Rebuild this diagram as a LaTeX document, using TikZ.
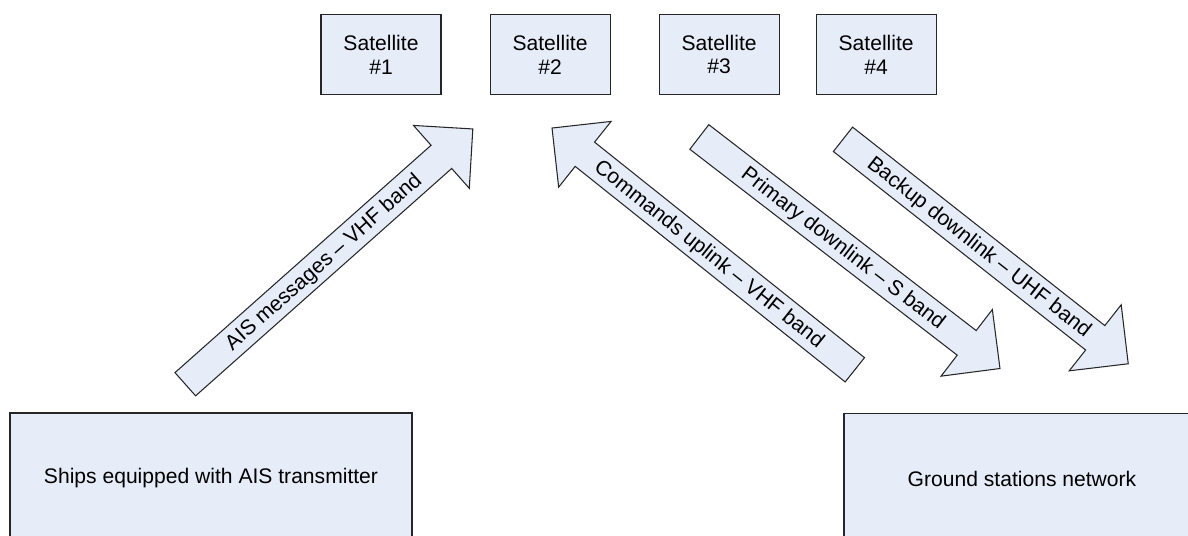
\documentclass[tikz,border=0pt]{standalone}
\usepackage{fontspec}
\setmainfont{Liberation Sans}
\usetikzlibrary{shapes.arrows, positioning}
\definecolor{boxfill}{RGB}{231,237,248}

\begin{document}
\begin{tikzpicture}[
    block/.style={rectangle, draw=black!85, fill=boxfill, line width=0.6pt,
        font=\fontsize{12}{13.5}\selectfont, align=center},
    sat/.style={block, minimum width=2.4cm, minimum height=1.6cm},
    site/.style={block, minimum height=2.6cm},
    link/.style={single arrow, draw=black!85, fill=boxfill, line width=0.6pt,
        font=\fontsize{12}{13.5}\selectfont, inner xsep=0pt, inner ysep=0pt,
        text height=0.434cm, text depth=0.166cm,
        single arrow head extend=0.53cm, single arrow tip angle=90}
]

    \useasboundingbox (0,0) rectangle (23.76,10.7);

    % Satellites -------------------------------------------------

    \node[sat] (s1) at (7.62,9.61) {Satellite\\\#1};
    \node[sat, right=0.96cm of s1] (s2) {Satellite\\\#2};
    \node[sat, right=0.96cm of s2] (s3) {Satellite\\\#3};
    \node[sat, right=0.72cm of s3] (s4) {Satellite\\\#4};

    % Ground segment ---------------------------------------------

    \node[site, minimum width=8.04cm] (ships) at (4.22,1.14) {Ships equipped with AIS transmitter};
    \node[site, minimum width=7.12cm] (ground) at (20.44,1.13) {Ground stations network};

    % Links ------------------------------------------------------

    \node[link, rotate=41.6, minimum height=7.69cm] (ais) at (6.465,5.465) {AIS messages -- VHF band};
    \node[link, rotate=-38.6, shape border rotate=180, minimum height=7.75cm] (cmd) at (14.19,5.625) {Commands uplink -- VHF band};
    \node[link, rotate=-37.6, minimum height=7.59cm] (prim) at (16.87,5.74) {Primary downlink -- S band};
    \node[link, rotate=-38.2, minimum height=7.26cm] (back) at (19.59,5.765) {Backup downlink -- UHF band};

\end{tikzpicture}
\end{document}
